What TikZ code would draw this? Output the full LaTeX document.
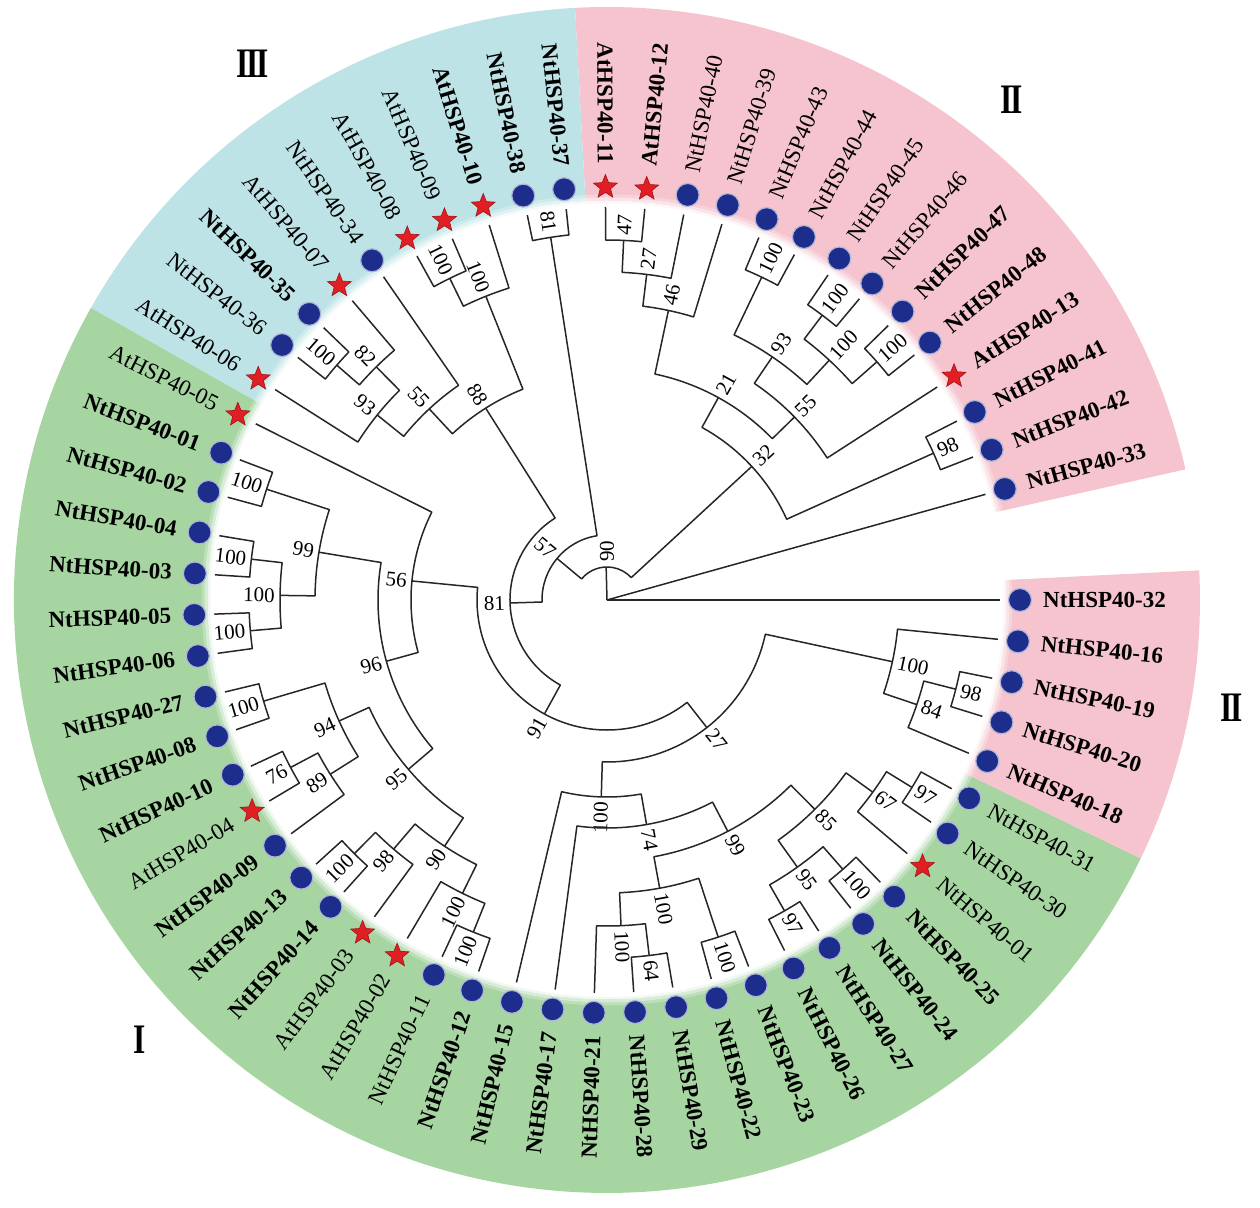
\documentclass[tikz,border=0pt]{standalone}
\usepackage{fontspec}
\usepackage{graphicx}
\setmainfont{Liberation Serif}
\usetikzlibrary{shapes.geometric}
\definecolor{pinkc}{RGB}{245,196,206}
\definecolor{greenc}{RGB}{166,213,162}
\definecolor{bluec}{RGB}{190,227,230}
\definecolor{dotc}{RGB}{28,45,140}
\definecolor{starc}{RGB}{225,30,35}
\newcommand\angstep{5.74}
% node with label placed radially, flipped on the left half
\newcommand\radnode[5]{%
  \pgfmathsetmacro\qn{mod(#1+720,360)}%
  \pgfmathtruncatemacro\qf{(\qn>90)*(\qn<270)}%
  \ifnum\qf=1
    \node[#3,anchor=east,rotate={#1+180}] (#5) at ({#1}:{#2}) {#4};
  \else
    \node[#3,anchor=west,rotate={#1}] (#5) at ({#1}:{#2}) {#4};
  \fi}
% internal tree node: name, radius, label, child1 pos, child1 r, child2 pos, child2 r
\newcommand\treenode[7]{%
  \pgfmathsetmacro\qa{-\angstep*(#4)}%
  \pgfmathsetmacro\qb{-\angstep*(#6)}%
  \pgfmathsetmacro\qm{-\angstep*((#4)+(#6))/2}%
  \coordinate (#1) at (\qm:#2);
  \draw[tree] (\qa:#5) -- (\qa:#2) arc[start angle=\qa, end angle=\qb, radius=#2pt] -- (\qb:#7);
  \if\relax\detokenize{#3}\relax\else\radnode{\qm}{#2+4}{blab}{#3}{#1l}\fi}
% leaf: pos, text, marker style, text style
\newcommand\tleaf[4]{%
  \pgfmathsetmacro\qa{-\angstep*(#1)}%
  \node[#3] (m#1) at (\qa:413) {};
  \radnode{\qa}{436}{#4}{#2}{t#1}}
\newcommand\ringsector[3]{%
  \fill[#1] ({-\angstep*(#2)}:397) arc[start angle={-\angstep*(#2)}, end angle={-\angstep*(#3)}, radius=397pt]
    -- ({-\angstep*(#3)}:593) arc[start angle={-\angstep*(#3)}, end angle={-\angstep*(#2)}, radius=593pt] -- cycle;}
\newcommand\romannum[1]{\scalebox{0.75}[1]{#1}}
\tikzset{
  tree/.style={draw=black!85, line width=1.5pt, line join=round},
  blab/.style={font=\fontsize{21}{21}\selectfont, inner sep=1pt},
  ntb/.style={font=\fontsize{23}{23}\selectfont\bfseries, inner sep=0pt},
  ntr/.style={font=\fontsize{23}{23}\selectfont, inner sep=0pt},
  ndot/.style={circle, fill=dotc, draw=dotc!35!white, line width=1.2pt, minimum size=23pt, inner sep=0pt},
  astar/.style={star, star points=5, star point ratio=2.3, fill=starc, draw=starc!70!black, line width=0.6pt, minimum size=25pt, inner sep=0pt},
  roman/.style={font=\fontsize{42}{42}\selectfont\bfseries, inner sep=0pt}
}
\begin{document}
\begin{tikzpicture}[x=1pt,y=1pt]
\useasboundingbox (-607,-607) rectangle (653,600);
% coloured ring sectors
\ringsector{pinkc}{46.5}{60.5}
\ringsector{bluec}{36.5}{46.5}
\ringsector{greenc}{4.5}{36.5}
\ringsector{pinkc}{-0.5}{4.5}
\foreach \rr/\op in {398/0.85,401/0.55,404/0.25}{\draw[white,opacity=\op,line width=3pt] (0,0) circle[radius=\rr pt];}
% tree
\coordinate (root) at (0,0);
\treenode{n90a}{33}{}{38.28}{65}{55.28}{197}
\draw[tree] (root) -- (0:393);
\draw[tree] (root) -- ({-\angstep*60}:393);
\draw[tree] (root) -- (n90a);
\node[blab, anchor=west, rotate=90] (n90al) at (90:37) {90};
\treenode{n57}{65}{57}{31.05}{97}{45.5}{367}
\treenode{n18}{367}{81}{45}{393}{46}{393}
\treenode{n81a}{97}{81}{20.69}{130}{41.41}{227}
\treenode{nX}{130}{91}{9.05}{162}{32.33}{196}
\treenode{n27}{162}{27}{2.125}{292}{15.97}{197}
\treenode{n100a}{292}{100}{1}{393}{3.25}{327}
\treenode{n84}{327}{84}{2.5}{360}{4}{393}
\treenode{n98a}{360}{98}{2}{393}{3}{393}
\treenode{n100f}{197}{100}{13.9375}{228}{18}{393}
\treenode{n74}{228}{74}{10.875}{261}{17}{393}
\treenode{n99a}{261}{99}{7.875}{295}{13.875}{293}
\treenode{n100e}{293}{100}{12.5}{355}{15.25}{326}
\treenode{n100d}{326}{100}{14.5}{358}{16}{393}
\treenode{n64}{358}{64}{14}{393}{15}{393}
\treenode{n100c}{355}{100}{12}{393}{13}{393}
\treenode{n85}{295}{85}{6.25}{328}{9.5}{328}
\treenode{n95a}{328}{95}{8.5}{358}{10.5}{358}
\treenode{n100b}{358}{100}{8}{393}{9}{393}
\treenode{n97b}{358}{97}{10}{393}{11}{393}
\treenode{n67}{328}{67}{5.5}{358}{7}{393}
\treenode{n97a}{358}{97}{5}{393}{6}{393}
\treenode{n56}{196}{56}{28.656}{229}{36}{393}
\treenode{n96}{229}{96}{24.3125}{261}{33}{292}
\treenode{n99b}{292}{99}{31.5}{327}{34.5}{358}
\treenode{n100m}{327}{100}{30.5}{358}{32.5}{358}
\treenode{n100k}{358}{100}{30}{393}{31}{393}
\treenode{n100l}{358}{100}{32}{393}{33}{393}
\treenode{n100n}{358}{100}{34}{393}{35}{393}
\treenode{n95b}{261}{95}{21.5}{295}{27.125}{294}
\treenode{n94}{294}{94}{25.75}{327}{28.5}{358}
\treenode{n100j}{358}{100}{28}{393}{29}{393}
\treenode{n89}{327}{89}{25}{393}{26.5}{358}
\treenode{n76}{358}{76}{26}{393}{27}{393}
\treenode{n90b}{295}{90}{20.25}{327}{22.75}{328}
\treenode{n100h}{327}{100}{19.5}{358}{21}{393}
\treenode{n100g}{358}{100}{19}{393}{20}{393}
\treenode{n98b}{328}{98}{22}{393}{23.5}{358}
\treenode{n100i}{358}{100}{23}{393}{24}{393}
\treenode{n88}{227}{88}{39.56}{261}{43.25}{327}
\treenode{n55b}{261}{55}{38.125}{295}{41}{393}
\treenode{n93b}{295}{93}{37}{393}{39.25}{328}
\treenode{n82}{328}{82}{38.5}{358}{40}{393}
\treenode{n100o}{358}{100}{38}{393}{39}{393}
\treenode{n100q}{327}{100}{42.5}{358}{44}{393}
\treenode{n100p}{358}{100}{42}{393}{43}{393}
\treenode{n32}{197}{32}{52.06}{231}{58.5}{358}
\treenode{n98c}{358}{98}{58}{393}{59}{393}
\treenode{n21}{231}{21}{49.125}{296}{55}{262}
\treenode{n46}{296}{46}{48.25}{328}{50}{393}
\treenode{n27b}{328}{27}{47.5}{360}{49}{393}
\treenode{n47}{360}{47}{47}{393}{48}{393}
\treenode{n55a}{262}{55}{53}{294}{57}{393}
\treenode{n93a}{294}{93}{51.5}{358}{54.5}{327}
\treenode{n100r}{358}{100}{51}{393}{52}{393}
\treenode{n100u}{327}{100}{53.5}{357}{55.5}{360}
\treenode{n100s}{357}{100}{53}{393}{54}{393}
\treenode{n100t}{360}{100}{55}{393}{56}{393}
% leaves
\tleaf{0}{NtHSP40-32}{ndot}{ntb}
\tleaf{1}{NtHSP40-16}{ndot}{ntb}
\tleaf{2}{NtHSP40-19}{ndot}{ntb}
\tleaf{3}{NtHSP40-20}{ndot}{ntb}
\tleaf{4}{NtHSP40-18}{ndot}{ntb}
\tleaf{5}{NtHSP40-31}{ndot}{ntr}
\tleaf{6}{NtHSP40-30}{ndot}{ntr}
\tleaf{7}{NtHSP40-01}{astar}{ntr}
\tleaf{8}{NtHSP40-25}{ndot}{ntb}
\tleaf{9}{NtHSP40-24}{ndot}{ntb}
\tleaf{10}{NtHSP40-27}{ndot}{ntb}
\tleaf{11}{NtHSP40-26}{ndot}{ntb}
\tleaf{12}{NtHSP40-23}{ndot}{ntb}
\tleaf{13}{NtHSP40-22}{ndot}{ntb}
\tleaf{14}{NtHSP40-29}{ndot}{ntb}
\tleaf{15}{NtHSP40-28}{ndot}{ntb}
\tleaf{16}{NtHSP40-21}{ndot}{ntb}
\tleaf{17}{NtHSP40-17}{ndot}{ntb}
\tleaf{18}{NtHSP40-15}{ndot}{ntb}
\tleaf{19}{NtHSP40-12}{ndot}{ntb}
\tleaf{20}{NtHSP40-11}{ndot}{ntr}
\tleaf{21}{AtHSP40-02}{astar}{ntr}
\tleaf{22}{AtHSP40-03}{astar}{ntr}
\tleaf{23}{NtHSP40-14}{ndot}{ntb}
\tleaf{24}{NtHSP40-13}{ndot}{ntb}
\tleaf{25}{NtHSP40-09}{ndot}{ntb}
\tleaf{26}{AtHSP40-04}{astar}{ntr}
\tleaf{27}{NtHSP40-10}{ndot}{ntb}
\tleaf{28}{NtHSP40-08}{ndot}{ntb}
\tleaf{29}{NtHSP40-27}{ndot}{ntb}
\tleaf{30}{NtHSP40-06}{ndot}{ntb}
\tleaf{31}{NtHSP40-05}{ndot}{ntb}
\tleaf{32}{NtHSP40-03}{ndot}{ntb}
\tleaf{33}{NtHSP40-04}{ndot}{ntb}
\tleaf{34}{NtHSP40-02}{ndot}{ntb}
\tleaf{35}{NtHSP40-01}{ndot}{ntb}
\tleaf{36}{AtHSP40-05}{astar}{ntr}
\tleaf{37}{AtHSP40-06}{astar}{ntr}
\tleaf{38}{NtHSP40-36}{ndot}{ntr}
\tleaf{39}{NtHSP40-35}{ndot}{ntb}
\tleaf{40}{AtHSP40-07}{astar}{ntr}
\tleaf{41}{NtHSP40-34}{ndot}{ntr}
\tleaf{42}{AtHSP40-08}{astar}{ntr}
\tleaf{43}{AtHSP40-09}{astar}{ntr}
\tleaf{44}{AtHSP40-10}{astar}{ntb}
\tleaf{45}{NtHSP40-38}{ndot}{ntb}
\tleaf{46}{NtHSP40-37}{ndot}{ntb}
\tleaf{47}{AtHSP40-11}{astar}{ntb}
\tleaf{48}{AtHSP40-12}{astar}{ntb}
\tleaf{49}{NtHSP40-40}{ndot}{ntr}
\tleaf{50}{NtHSP40-39}{ndot}{ntr}
\tleaf{51}{NtHSP40-43}{ndot}{ntr}
\tleaf{52}{NtHSP40-44}{ndot}{ntr}
\tleaf{53}{NtHSP40-45}{ndot}{ntr}
\tleaf{54}{NtHSP40-46}{ndot}{ntr}
\tleaf{55}{NtHSP40-47}{ndot}{ntb}
\tleaf{56}{NtHSP40-48}{ndot}{ntb}
\tleaf{57}{AtHSP40-13}{astar}{ntb}
\tleaf{58}{NtHSP40-41}{ndot}{ntb}
\tleaf{59}{NtHSP40-42}{ndot}{ntb}
\tleaf{60}{NtHSP40-33}{ndot}{ntb}
% group numerals
\node[roman] (g3) at (-354,536) {\romannum{I\kern-3pt I\kern-3pt I}};
\node[roman] (g2a) at (405,500) {\romannum{I\kern-3pt I}};
\node[roman] (g2b) at (625,-108) {\romannum{I\kern-3pt I}};
\node[roman] (g1) at (-467,-440) {\romannum{I}};
\end{tikzpicture}
\end{document}
